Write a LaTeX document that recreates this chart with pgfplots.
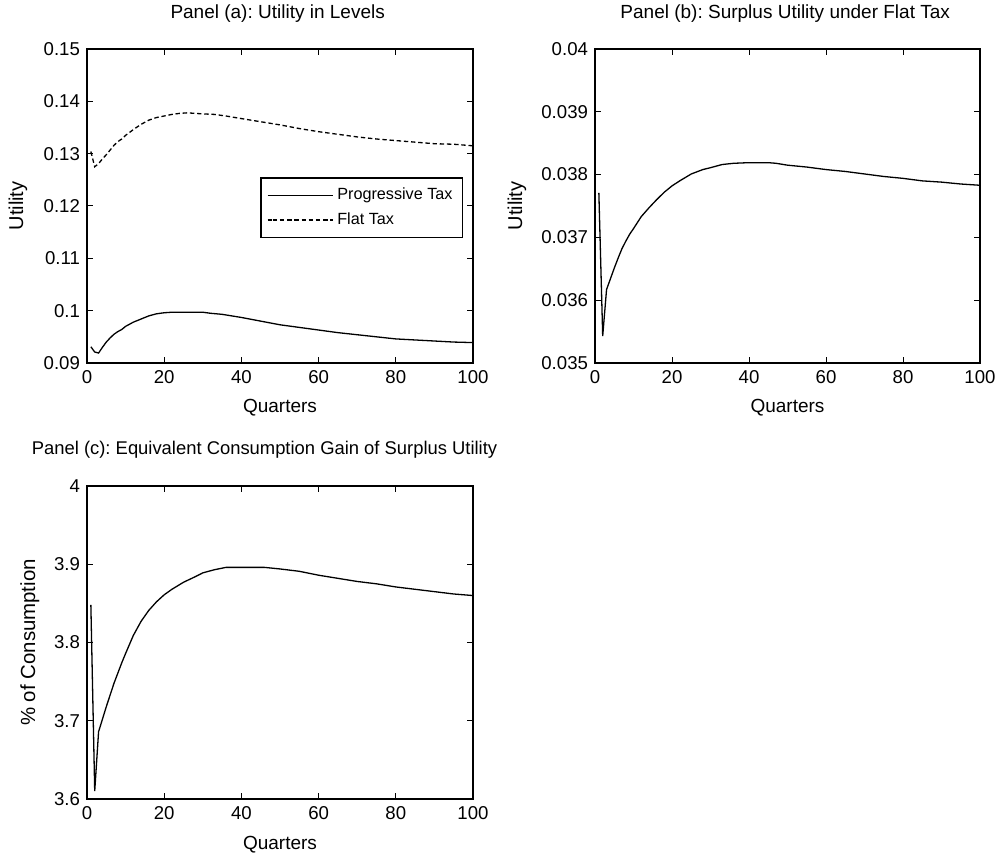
\documentclass[border=0pt]{standalone}
\usepackage{fontspec}
\setmainfont{Liberation Sans}
\usepackage{pgfplots}
\pgfplotsset{compat=1.18}
\frenchspacing
\begin{document}
\begin{tikzpicture}
\useasboundingbox (0pt,0pt) rectangle (500pt,428pt);
\pgfplotsset{
  mystyle/.style={
    scale only axis,
    anchor=south west,
    xmin=0, xmax=100,
    xtick={0,20,40,60,80,100},
    tick align=inside,
    tick pos=both,
    major tick length=2.8pt,
    axis line style={line width=0.6pt},
    every tick/.style={line width=0.5pt, black},
    tick label style={font=\fontsize{9.3}{11}\selectfont},
    label style={font=\fontsize{9.5}{11}\selectfont},
    title style={font=\fontsize{9.5}{11}\selectfont},
    /pgf/number format/assume math mode=true,
    scaled ticks=false,
    yticklabel style={/pgf/number format/fixed, /pgf/number format/precision=3},
    xlabel={Quarters},
    xlabel style={at={(axis description cs:0.5,-0.143)}, anchor=center},
    title style={at={(axis description cs:0.494,1.076)}, anchor=center},
    clip=true,
  },
  line/.style={black, line width=0.65pt},
}
% Panel (a)
\begin{axis}[mystyle,
  at={(43.5pt,246.5pt)}, width=193pt, height=157pt,
  ymin=0.09, ymax=0.15, ytick={0.09,0.1,0.11,0.12,0.13,0.14,0.15},
  ylabel={Utility},
  ylabel style={at={(axis description cs:-0.179,0.5)}, anchor=center, font=\fontsize{10}{11}\selectfont},
  title={Panel (a): Utility in Levels},
  legend style={at={(axis description cs:0.975,0.592)}, anchor=north east,
    font=\fontsize{8.1}{9}\selectfont, draw=black, line width=0.8pt,
    inner xsep=3pt, inner ysep=3pt, row sep=1pt, cells={anchor=west}},
  legend image code/.code={\path (0pt,0pt) -- (2.5pt,0pt); \draw[#1, line width=0.6pt] (2.5pt,0pt) -- (32.5pt,0pt);},
]
\addplot[line] coordinates {
(1,0.0931) (2,0.0921) (3,0.0919) (4,0.0930) (5,0.0940) (6,0.0948) (7,0.0955) (8,0.0960)
(9,0.0964) (10,0.0970) (12,0.0978) (14,0.0984) (16,0.0990) (18,0.0994) (20,0.0996)
(22,0.0997) (25,0.0997) (30,0.0997) (32,0.0995) (35,0.0993) (40,0.0987) (45,0.0980)
(50,0.0973) (55,0.0968) (60,0.0963) (65,0.0958) (70,0.0954) (75,0.0950) (80,0.0946)
(85,0.0944) (90,0.0942) (95,0.0940) (100,0.0939)};
\addlegendentry{Progressive Tax}
\addplot[line, dash pattern=on 2.2pt off 1.4pt] coordinates {
(1,0.1304) (2,0.1275) (3,0.1281) (4,0.1290) (5,0.1298) (6,0.1307) (7,0.1316) (8,0.1323)
(9,0.1328) (10,0.1335) (12,0.1346) (14,0.1356) (16,0.1364) (18,0.1369) (20,0.1372)
(22,0.1375) (24,0.1377) (26,0.1378) (28,0.1377) (30,0.1376) (33,0.1375) (36,0.1372)
(40,0.1367) (45,0.1361) (50,0.1355) (55,0.1348) (60,0.1342) (65,0.1337) (70,0.1332)
(75,0.1328) (80,0.1325) (85,0.1322) (90,0.1319) (95,0.1318) (100,0.1315)};
\addlegendentry{Flat Tax}
\end{axis}
% Panel (b)
\begin{axis}[mystyle,
  at={(297.5pt,246.5pt)}, width=192.5pt, height=157pt,
  ymin=0.035, ymax=0.04, ytick={0.035,0.036,0.037,0.038,0.039,0.04},
  ylabel={Utility},
  ylabel style={at={(axis description cs:-0.203,0.5)}, anchor=center, font=\fontsize{10}{11}\selectfont},
  title={Panel (b): Surplus Utility under Flat Tax},
]
\addplot[line] coordinates {
(1,0.03771) (2,0.03543) (3,0.03617) (4,0.03634) (5,0.03651) (6,0.03667) (7,0.03682)
(8,0.03694) (9,0.03705) (10,0.03714) (12,0.03733) (14,0.03747) (16,0.03760) (18,0.03772)
(20,0.03782) (22,0.03790) (25,0.03801) (28,0.03808) (30,0.03811) (33,0.03816) (36,0.03818)
(40,0.03819) (45,0.03819) (47,0.03818) (50,0.03815) (55,0.03812) (60,0.03808) (65,0.03805)
(70,0.03801) (75,0.03797) (80,0.03794) (85,0.03790) (90,0.03788) (95,0.03785) (100,0.03783)};
\end{axis}
% Panel (c)
\begin{axis}[mystyle,
  at={(43.5pt,28.5pt)}, width=193pt, height=156.5pt,
  ymin=3.6, ymax=4, ytick={3.6,3.7,3.8,3.9,4},
  ylabel={\% of Consumption},
  ylabel style={at={(axis description cs:-0.148,0.5)}, anchor=center, font=\fontsize{10.2}{11}\selectfont},
  xlabel style={at={(axis description cs:0.5,-0.147)}, anchor=center},
  title={Panel (c): Equivalent Consumption Gain of Surplus Utility},
  title style={at={(axis description cs:0.46,1.076)}, anchor=center, font=\fontsize{9.2}{11}\selectfont},
]
\addplot[line] coordinates {
(1,3.848) (2,3.610) (3,3.686) (4,3.702) (5,3.718) (6,3.733) (7,3.748) (8,3.761) (9,3.774)
(10,3.786) (12,3.809) (14,3.827) (16,3.841) (18,3.852) (20,3.861) (22,3.868) (25,3.877)
(28,3.884) (30,3.889) (33,3.893) (36,3.896) (40,3.896) (46,3.896) (50,3.894) (55,3.891)
(60,3.886) (65,3.882) (70,3.878) (75,3.875) (80,3.871) (85,3.868) (90,3.865) (95,3.862)
(100,3.860)};
\end{axis}
\end{tikzpicture}
\end{document}
